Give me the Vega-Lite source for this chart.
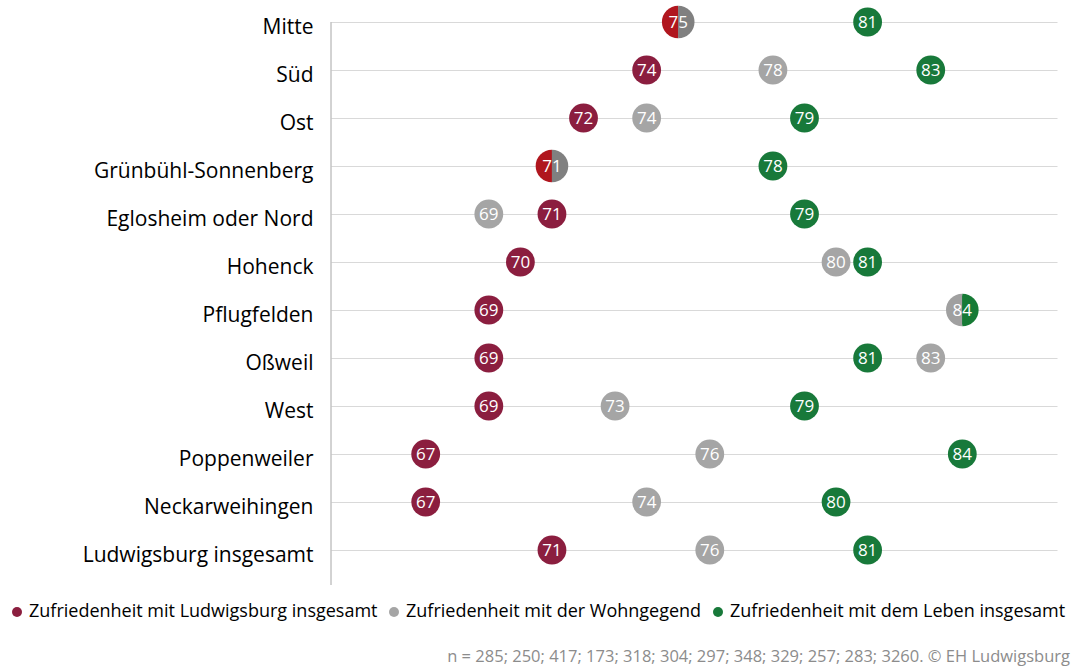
{
  "$schema": "https://vega.github.io/schema/vega-lite/v6.json",
  "width": 726,
  "height": 563,
  "autosize": "none",
  "padding": {"left": 331, "top": 22, "right": 17, "bottom": 82},
  "background": "white",
  "config": {"view": {"stroke": null}, "font": "Open Sans"},
  "title": {
    "text": "n = 285; 250; 417; 173; 318; 304; 297; 348; 329; 257; 283; 3260. © EH Ludwigsburg",
    "orient": "bottom",
    "anchor": "end",
    "frame": "group",
    "dx": 13,
    "offset": 28,
    "fontSize": 16.5,
    "fontWeight": "normal",
    "color": "#8c8c8c",
    "font": "Open Sans"
  },
  "datasets": {
    "merkmale": [
      {"merkmal": "Zufriedenheit mit Ludwigsburg insgesamt", "nr": 1},
      {"merkmal": "Zufriedenheit mit der Wohngegend", "nr": 2},
      {"merkmal": "Zufriedenheit mit dem Leben insgesamt", "nr": 3}
    ],
    "werte": [
      {"bezirk": "Mitte", "merkmal": "Zufriedenheit mit Ludwigsburg insgesamt", "wert": 75},
      {"bezirk": "Mitte", "merkmal": "Zufriedenheit mit der Wohngegend", "wert": 75},
      {"bezirk": "Mitte", "merkmal": "Zufriedenheit mit dem Leben insgesamt", "wert": 81},
      {"bezirk": "Süd", "merkmal": "Zufriedenheit mit Ludwigsburg insgesamt", "wert": 74},
      {"bezirk": "Süd", "merkmal": "Zufriedenheit mit der Wohngegend", "wert": 78},
      {"bezirk": "Süd", "merkmal": "Zufriedenheit mit dem Leben insgesamt", "wert": 83},
      {"bezirk": "Ost", "merkmal": "Zufriedenheit mit Ludwigsburg insgesamt", "wert": 72},
      {"bezirk": "Ost", "merkmal": "Zufriedenheit mit der Wohngegend", "wert": 74},
      {"bezirk": "Ost", "merkmal": "Zufriedenheit mit dem Leben insgesamt", "wert": 79},
      {"bezirk": "Grünbühl-Sonnenberg", "merkmal": "Zufriedenheit mit Ludwigsburg insgesamt", "wert": 71},
      {"bezirk": "Grünbühl-Sonnenberg", "merkmal": "Zufriedenheit mit der Wohngegend", "wert": 71},
      {"bezirk": "Grünbühl-Sonnenberg", "merkmal": "Zufriedenheit mit dem Leben insgesamt", "wert": 78},
      {"bezirk": "Eglosheim oder Nord", "merkmal": "Zufriedenheit mit Ludwigsburg insgesamt", "wert": 71},
      {"bezirk": "Eglosheim oder Nord", "merkmal": "Zufriedenheit mit der Wohngegend", "wert": 69},
      {"bezirk": "Eglosheim oder Nord", "merkmal": "Zufriedenheit mit dem Leben insgesamt", "wert": 79},
      {"bezirk": "Hohenck", "merkmal": "Zufriedenheit mit Ludwigsburg insgesamt", "wert": 70},
      {"bezirk": "Hohenck", "merkmal": "Zufriedenheit mit der Wohngegend", "wert": 80},
      {"bezirk": "Hohenck", "merkmal": "Zufriedenheit mit dem Leben insgesamt", "wert": 81},
      {"bezirk": "Pflugfelden", "merkmal": "Zufriedenheit mit Ludwigsburg insgesamt", "wert": 69},
      {"bezirk": "Pflugfelden", "merkmal": "Zufriedenheit mit der Wohngegend", "wert": 84},
      {"bezirk": "Pflugfelden", "merkmal": "Zufriedenheit mit dem Leben insgesamt", "wert": 84},
      {"bezirk": "Oßweil", "merkmal": "Zufriedenheit mit Ludwigsburg insgesamt", "wert": 69},
      {"bezirk": "Oßweil", "merkmal": "Zufriedenheit mit der Wohngegend", "wert": 83},
      {"bezirk": "Oßweil", "merkmal": "Zufriedenheit mit dem Leben insgesamt", "wert": 81},
      {"bezirk": "West", "merkmal": "Zufriedenheit mit Ludwigsburg insgesamt", "wert": 69},
      {"bezirk": "West", "merkmal": "Zufriedenheit mit der Wohngegend", "wert": 73},
      {"bezirk": "West", "merkmal": "Zufriedenheit mit dem Leben insgesamt", "wert": 79},
      {"bezirk": "Poppenweiler", "merkmal": "Zufriedenheit mit Ludwigsburg insgesamt", "wert": 67},
      {"bezirk": "Poppenweiler", "merkmal": "Zufriedenheit mit der Wohngegend", "wert": 76},
      {"bezirk": "Poppenweiler", "merkmal": "Zufriedenheit mit dem Leben insgesamt", "wert": 84},
      {"bezirk": "Neckarweihingen", "merkmal": "Zufriedenheit mit Ludwigsburg insgesamt", "wert": 67},
      {"bezirk": "Neckarweihingen", "merkmal": "Zufriedenheit mit der Wohngegend", "wert": 74},
      {"bezirk": "Neckarweihingen", "merkmal": "Zufriedenheit mit dem Leben insgesamt", "wert": 80},
      {"bezirk": "Ludwigsburg insgesamt", "merkmal": "Zufriedenheit mit Ludwigsburg insgesamt", "wert": 71},
      {"bezirk": "Ludwigsburg insgesamt", "merkmal": "Zufriedenheit mit der Wohngegend", "wert": 76},
      {"bezirk": "Ludwigsburg insgesamt", "merkmal": "Zufriedenheit mit dem Leben insgesamt", "wert": 81}
    ]
  },
  "data": {"name": "werte"},
  "transform": [
    {"lookup": "merkmal", "from": {"data": {"name": "merkmale"}, "key": "merkmal", "fields": ["nr"]}},
    {"joinaggregate": [{"op": "count", "as": "n"}], "groupby": ["bezirk", "wert"]},
    {"window": [{"op": "row_number", "as": "r"}], "sort": [{"field": "nr", "order": "ascending"}], "groupby": ["bezirk", "wert"]}
  ],
  "encoding": {
    "y": {
      "field": "bezirk",
      "type": "nominal",
      "sort": ["Mitte", "Süd", "Ost", "Grünbühl-Sonnenberg", "Eglosheim oder Nord", "Hohenck", "Pflugfelden", "Oßweil", "West", "Poppenweiler", "Neckarweihingen", "Ludwigsburg insgesamt"],
      "scale": {"type": "point", "range": [0, 528], "padding": 0},
      "axis": {
        "title": null,
        "domain": false,
        "ticks": false,
        "grid": true,
        "gridColor": "#d9d9d9",
        "gridWidth": 1,
        "labelFont": "Open Sans",
        "labelFontSize": 21,
        "labelColor": "#000000",
        "labelPadding": 18,
        "labelOffset": 5,
        "labelLimit": 0
      }
    },
    "x": {
      "field": "wert",
      "type": "quantitative",
      "scale": {"domain": [64, 87], "nice": false, "zero": false},
      "axis": null
    }
  },
  "layer": [
    {
      "data": {"values": [{"basis": 64}]},
      "transform": [],
      "mark": {"type": "rule", "color": "#a6a6a6", "strokeWidth": 1},
      "encoding": {
        "x": {"field": "basis", "type": "quantitative"},
        "y": null
      }
    },
    {
      "mark": {"type": "circle", "size": 830, "opacity": 1},
      "encoding": {
        "color": {
          "field": "merkmal",
          "type": "nominal",
          "scale": {
            "domain": ["Zufriedenheit mit Ludwigsburg insgesamt", "Zufriedenheit mit der Wohngegend", "Zufriedenheit mit dem Leben insgesamt"],
            "range": ["#8b1e3f", "#a5a5a5", "#18793a"]
          },
          "legend": {
            "title": null,
            "orient": "none",
            "direction": "horizontal",
            "legendX": -323,
            "legendY": 581,
            "labelFont": "Open Sans",
            "labelFontSize": 18,
            "labelColor": "#000000",
            "labelLimit": 0,
            "symbolType": "circle",
            "symbolSize": 100,
            "symbolOpacity": 1,
            "columnPadding": 7,
            "labelOffset": 3
          }
        }
      }
    },
    {
      "transform": [{"filter": "datum.n > 1 && datum.r == 1"}],
      "mark": {"type": "arc", "radius": 16.3, "theta": 3.14159, "theta2": 6.28318},
      "encoding": {
        "color": {
          "field": "merkmal",
          "type": "nominal",
          "scale": {
            "domain": ["Zufriedenheit mit Ludwigsburg insgesamt", "Zufriedenheit mit der Wohngegend", "Zufriedenheit mit dem Leben insgesamt"],
            "range": ["#b0161e", "#a0a0a0", "#167a35"]
          },
          "legend": null
        }
      }
    },
    {
      "transform": [{"filter": "datum.n > 1 && datum.r == 2"}],
      "mark": {"type": "arc", "radius": 16.3, "theta": 0, "theta2": 3.14159},
      "encoding": {
        "color": {
          "field": "merkmal",
          "type": "nominal",
          "scale": {
            "domain": ["Zufriedenheit mit Ludwigsburg insgesamt", "Zufriedenheit mit der Wohngegend", "Zufriedenheit mit dem Leben insgesamt"],
            "range": ["#b0161e", "#808080", "#167a35"]
          },
          "legend": null
        }
      }
    },
    {
      "transform": [{"filter": "datum.r == 1"}],
      "mark": {"type": "text", "color": "#ffffff", "font": "Open Sans", "fontSize": 17, "align": "center", "baseline": "middle", "dy": 1},
      "encoding": {
        "text": {"field": "wert", "type": "quantitative"}
      }
    }
  ],
  "resolve": {"scale": {"color": "independent"}}
}
